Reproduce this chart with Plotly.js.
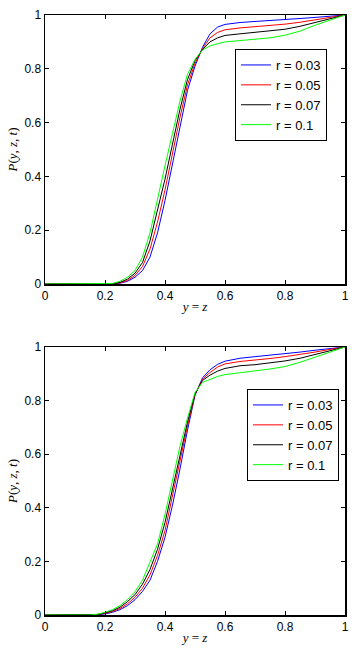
<!DOCTYPE html>
<html>
<head>
<meta charset="utf-8">
<script src="https://cdn.plot.ly/plotly-3.0.1.min.js"></script>
<style>
  html, body { margin: 0; padding: 0; background: #fff; }
  #chart { width: 355px; height: 651px; }
</style>
</head>
<body>
<div id="chart"></div>
<script>
// --- Data ---
const labels = ['r = 0.03', 'r = 0.05', 'r = 0.07', 'r = 0.1'];
const colors = ['#0000ff', '#ff0000', '#000000', '#00ff00'];

// top panel
const xTop = [0, 0.2, 0.225, 0.25, 0.275, 0.3, 0.325, 0.35, 0.375, 0.4, 0.425, 0.45, 0.475, 0.5,
              0.525, 0.55, 0.575, 0.6, 0.65, 0.7, 0.75, 0.8, 0.85, 0.9, 0.95, 1];
const topR003 = [0, 0, 0, 0.003, 0.01, 0.025, 0.05, 0.1, 0.19, 0.31, 0.45, 0.59, 0.72, 0.81,
                 0.88, 0.93, 0.955, 0.965, 0.972, 0.976, 0.979, 0.983, 0.987, 0.991, 0.995, 1];
const topR005 = [0, 0, 0.001, 0.004, 0.013, 0.032, 0.065, 0.13, 0.23, 0.35, 0.49, 0.62, 0.74, 0.82,
                 0.875, 0.915, 0.935, 0.945, 0.952, 0.956, 0.96, 0.966, 0.973, 0.982, 0.992, 1];
const topR007 = [0, 0, 0.001, 0.006, 0.018, 0.04, 0.08, 0.16, 0.27, 0.39, 0.52, 0.65, 0.76, 0.83,
                 0.872, 0.9, 0.915, 0.924, 0.93, 0.935, 0.94, 0.947, 0.958, 0.972, 0.988, 1];
const topR01  = [0, 0, 0.002, 0.01, 0.025, 0.05, 0.1, 0.19, 0.32, 0.44, 0.56, 0.68, 0.78, 0.835,
                 0.87, 0.885, 0.893, 0.9, 0.905, 0.91, 0.915, 0.925, 0.94, 0.962, 0.982, 1];

// bottom panel
const xBot = [0, 0.15, 0.175, 0.2, 0.225, 0.25, 0.275, 0.3, 0.325, 0.35, 0.375, 0.4, 0.425, 0.45,
              0.475, 0.5, 0.525, 0.55, 0.575, 0.6, 0.65, 0.7, 0.75, 0.8, 0.85, 0.9, 0.95, 1];
const botR003 = [0, 0, 0.001, 0.004, 0.01, 0.02, 0.035, 0.057, 0.088, 0.13, 0.2, 0.29, 0.41, 0.545,
                 0.69, 0.82, 0.885, 0.915, 0.935, 0.947, 0.958, 0.964, 0.969, 0.975, 0.981, 0.988, 0.994, 1];
const botR005 = [0, 0, 0.002, 0.006, 0.013, 0.024, 0.042, 0.066, 0.1, 0.15, 0.222, 0.315, 0.44, 0.575,
                 0.705, 0.822, 0.88, 0.905, 0.925, 0.937, 0.946, 0.951, 0.957, 0.964, 0.972, 0.981, 0.991, 1];
const botR007 = [0, 0, 0.002, 0.008, 0.016, 0.029, 0.05, 0.076, 0.115, 0.17, 0.245, 0.345, 0.47, 0.6,
                 0.72, 0.825, 0.875, 0.895, 0.91, 0.92, 0.93, 0.934, 0.94, 0.948, 0.958, 0.972, 0.988, 1];
const botR01  = [0, 0, 0.003, 0.01, 0.02, 0.035, 0.058, 0.087, 0.13, 0.195, 0.265, 0.375, 0.505, 0.63,
                 0.735, 0.83, 0.868, 0.88, 0.89, 0.897, 0.905, 0.911, 0.918, 0.927, 0.943, 0.962, 0.982, 1];

const topSeries = [topR003, topR005, topR007, topR01];
const botSeries = [botR003, botR005, botR007, botR01];

// --- Traces ---
const traces = [];
topSeries.forEach((ys, i) => {
    traces.push({
        x: xTop, y: ys, type: 'scatter', mode: 'lines',
        name: labels[i], line: { color: colors[i], width: 1 },
        xaxis: 'x', yaxis: 'y', legend: 'legend'
    });
});
botSeries.forEach((ys, i) => {
    traces.push({
        x: xBot, y: ys, type: 'scatter', mode: 'lines',
        name: labels[i], line: { color: colors[i], width: 1 },
        xaxis: 'x2', yaxis: 'y2', legend: 'legend2'
    });
});

// --- Layout ---
const tickFont = { family: 'Liberation Sans, Arial, sans-serif', size: 12, color: '#000' };
const titleFont = { family: 'Liberation Serif, Times New Roman, serif', size: 13, color: '#000' };

function xAxis() {
    return {
        domain: [45 / 355, 345 / 355], range: [0, 1], dtick: 0.2, tick0: 0,
        showgrid: false, zeroline: false, showline: true, linecolor: '#000', linewidth: 1.5,
        mirror: 'ticks', ticks: 'inside', ticklen: 4, tickcolor: '#000',
        tickfont: tickFont,
        title: { text: '<i>y</i> = <i>z</i>', font: titleFont, standoff: 0 },
        fixedrange: true
    };
}
function yAxis(domain) {
    return {
        domain: domain, range: [0, 1], dtick: 0.2, tick0: 0,
        showgrid: false, zeroline: false, showline: true, linecolor: '#000', linewidth: 1.5,
        mirror: 'ticks', ticks: 'inside', ticklen: 4, tickcolor: '#000',
        tickfont: tickFont,
        title: { text: '<i>P</i>(<i>y</i>, <i>z</i>, <i>t</i>)', font: titleFont, standoff: 4 },
        fixedrange: true
    };
}

const legendStyle = {
    bgcolor: '#fff', bordercolor: '#000', borderwidth: 1,
    font: { family: 'Liberation Sans, Arial, sans-serif', size: 13, color: '#000' },
    xanchor: 'left', yanchor: 'top', tracegroupgap: 0
};

const layout = {
    width: 355, height: 651,
    margin: { l: 0, r: 0, t: 0, b: 0 },
    paper_bgcolor: '#fff', plot_bgcolor: '#fff',
    showlegend: true,
    xaxis: Object.assign(xAxis(), { anchor: 'y' }),
    yaxis: Object.assign(yAxis([(651 - 284) / 651, (651 - 15) / 651]), { anchor: 'x' }),
    xaxis2: Object.assign(xAxis(), { anchor: 'y2' }),
    yaxis2: Object.assign(yAxis([(651 - 615) / 651, (651 - 347) / 651]), { anchor: 'x2' }),
    legend: Object.assign({}, legendStyle, { x: 235 / 355, y: (651 - 49) / 651 }),
    legend2: Object.assign({}, legendStyle, { x: 247 / 355, y: (651 - 389) / 651 })
};

Plotly.newPlot('chart', traces, layout, { staticPlot: true, displayModeBar: false });
</script>
</body>
</html>
